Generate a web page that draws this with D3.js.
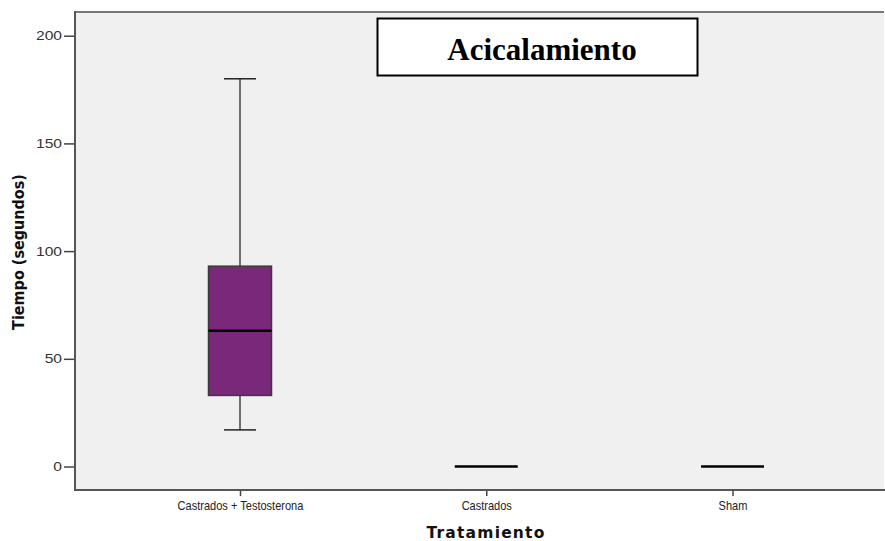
<!DOCTYPE html>
<html>
<head>
<meta charset="utf-8">
<script src="https://cdn.jsdelivr.net/npm/d3@7"></script>
<style>
  html, body { margin: 0; padding: 0; background: #ffffff; }
  svg { display: block; }
</style>
</head>
<body>
<svg id="chart" width="885" height="541"></svg>
<script>
// Grooming time (seconds) per treatment group: box-plot summaries
const categories = ["Castrados + Testosterona", "Castrados", "Sham"];
const whiskerLow = [17, 0, 0];
const q1Values   = [33, 0, 0];
const medians    = [63, 0, 0];
const q3Values   = [93, 0, 0];
const whiskerHigh = [180, 0, 0];
const yTicks = [0, 50, 100, 150, 200];
const chartTitle = "Acicalamiento";
const xTitle = "Tratamiento";
const yTitle = "Tiempo (segundos)";

const svg = d3.select("#chart");
const plot = { left: 75, top: 12, right: 884, bottom: 490 };

const y = d3.scaleLinear().domain([-10.9, 211]).range([plot.bottom, plot.top]);
const x = d3.scalePoint().domain(categories).range([240, 732.5]);

const boxW = 63;
const capW = 32;

// Plot background
svg.append("rect")
  .attr("x", plot.left).attr("y", plot.top)
  .attr("width", plot.right - plot.left).attr("height", plot.bottom - plot.top)
  .attr("fill", "#f0f0f0");

// Title box
const tb = svg.append("g");
tb.append("rect")
  .attr("x", 377.5).attr("y", 18.5).attr("width", 320).attr("height", 57)
  .attr("fill", "#ffffff").attr("stroke", "#000").attr("stroke-width", 2);
tb.append("text")
  .attr("x", 542).attr("y", 60)
  .attr("text-anchor", "middle")
  .attr("font-family", "'Liberation Serif', 'Times New Roman', serif")
  .attr("font-weight", "bold").attr("font-size", 31)
  .attr("fill", "#000")
  .text(chartTitle);

// Boxes
const data = categories.map((c, i) => ({
  c, lo: whiskerLow[i], q1: q1Values[i], med: medians[i], q3: q3Values[i], hi: whiskerHigh[i]
}));

const g = svg.append("g");
data.forEach(d => {
  const cx = x(d.c);
  if (d.hi > d.lo) {
    // whiskers
    g.append("line").attr("x1", cx).attr("x2", cx).attr("y1", y(d.q3)).attr("y2", y(d.hi))
      .attr("stroke", "#444").attr("stroke-width", 1.5);
    g.append("line").attr("x1", cx).attr("x2", cx).attr("y1", y(d.q1)).attr("y2", y(d.lo))
      .attr("stroke", "#444").attr("stroke-width", 1.5);
    g.append("line").attr("x1", cx - capW / 2).attr("x2", cx + capW / 2).attr("y1", y(d.hi)).attr("y2", y(d.hi))
      .attr("stroke", "#222").attr("stroke-width", 1.5);
    g.append("line").attr("x1", cx - capW / 2).attr("x2", cx + capW / 2).attr("y1", y(d.lo)).attr("y2", y(d.lo))
      .attr("stroke", "#222").attr("stroke-width", 1.5);
    // box
    g.append("rect")
      .attr("x", cx - boxW / 2).attr("y", y(d.q3))
      .attr("width", boxW).attr("height", y(d.q1) - y(d.q3))
      .attr("fill", "#7a287a").attr("stroke", "#3a3a3a").attr("stroke-width", 1.5);
  }
  // median
  g.append("line")
    .attr("x1", cx - boxW / 2).attr("x2", cx + boxW / 2)
    .attr("y1", y(d.med)).attr("y2", y(d.med))
    .attr("stroke", "#000").attr("stroke-width", 2.5);
});

// Frame
svg.append("line").attr("x1", plot.left).attr("x2", plot.right).attr("y1", plot.top).attr("y2", plot.top)
  .attr("stroke", "#777").attr("stroke-width", 2);
svg.append("line").attr("x1", plot.left).attr("x2", plot.left).attr("y1", plot.top - 1).attr("y2", plot.bottom + 1)
  .attr("stroke", "#555").attr("stroke-width", 2);
svg.append("line").attr("x1", plot.left).attr("x2", 885).attr("y1", plot.bottom).attr("y2", plot.bottom)
  .attr("stroke", "#555").attr("stroke-width", 2);

// Y axis (tick labels drawn slightly wide)
const stretch = 1.25;
const yAxis = d3.axisLeft(y).tickValues(yTicks).tickSize(10).tickPadding(2).tickFormat(d3.format("d"));
const yg = svg.append("g").attr("transform", `translate(${plot.left - 1},0)`).call(yAxis);
yg.select(".domain").remove();
yg.selectAll(".tick line").attr("stroke", "#444").attr("stroke-width", 1.5);
yg.selectAll(".tick text")
  .attr("font-family", "'Liberation Sans', Arial, sans-serif").attr("font-size", 12.5)
  .attr("fill", "#333")
  .attr("x", -12 / stretch)
  .attr("transform", `scale(${stretch},1)`);

// X axis (tick labels drawn slightly narrow)
const xAxis = d3.axisBottom(x).tickSize(5).tickPadding(5);
const xg = svg.append("g").attr("transform", `translate(0,${plot.bottom + 1})`).call(xAxis);
xg.select(".domain").remove();
xg.selectAll(".tick line").attr("stroke", "#444").attr("stroke-width", 1.5);
xg.selectAll(".tick text")
  .attr("font-family", "'Liberation Sans', Arial, sans-serif").attr("font-size", 12)
  .attr("fill", "#222")
  .attr("transform", "scale(0.92,1)");

// Axis titles
svg.append("text")
  .attr("x", 486).attr("y", 538)
  .attr("text-anchor", "middle")
  .attr("font-family", "'DejaVu Sans', sans-serif").attr("font-weight", "bold").attr("font-size", 15.5)
  .attr("letter-spacing", 1.2)
  .attr("fill", "#111")
  .text(xTitle);

svg.append("text")
  .attr("transform", "translate(24,252) rotate(-90)")
  .attr("text-anchor", "middle")
  .attr("font-family", "'DejaVu Sans Condensed', 'DejaVu Sans', sans-serif")
  .attr("font-stretch", "condensed")
  .attr("font-weight", "bold").attr("font-size", 16)
  .attr("fill", "#111")
  .text(yTitle);
</script>
</body>
</html>
